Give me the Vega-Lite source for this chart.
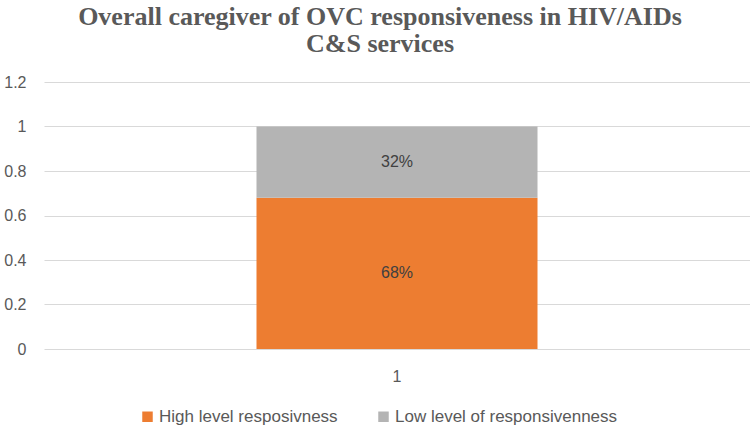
{
  "$schema": "https://vega.github.io/schema/vega-lite/v6.json",
  "autosize": "none",
  "width": 706,
  "height": 267,
  "padding": {"left": 44, "top": 82, "right": 0, "bottom": 80},
  "background": "white",
  "title": {
    "text": ["Overall caregiver of OVC responsiveness in HIV/AIDs", "C&S services"],
    "font": "Liberation Serif",
    "fontSize": 26,
    "fontWeight": "bold",
    "color": "#595959",
    "lineHeight": 27,
    "anchor": "middle",
    "dx": -17,
    "offset": 17
  },
  "data": {
    "values": [
      {"cat": "1", "level": "High level resposivness", "value": 0.68, "label": "68%", "ord": 1},
      {"cat": "1", "level": "Low level of responsivenness", "value": 0.32, "label": "32%", "ord": 2}
    ]
  },
  "transform": [
    {"stack": "value", "groupby": ["cat"], "sort": [{"field": "ord", "order": "ascending"}], "as": ["v0", "v1"]},
    {"calculate": "(datum.v0 + datum.v1) / 2", "as": "mid"}
  ],
  "encoding": {
    "x": {
      "field": "cat",
      "type": "nominal",
      "title": null,
      "axis": {
        "labelAngle": 0,
        "labelFont": "Liberation Sans",
        "labelFontSize": 16,
        "labelColor": "#595959",
        "domain": false,
        "ticks": false,
        "labelPadding": 19
      }
    }
  },
  "layer": [
    {
      "mark": {"type": "bar", "width": 281},
      "encoding": {
        "y": {
          "field": "v0",
          "type": "quantitative",
          "title": null,
          "scale": {"domain": [0, 1.2]},
          "axis": {
            "values": [0, 0.2, 0.4, 0.6, 0.8, 1, 1.2],
            "format": "~g",
            "labelFont": "Liberation Sans",
            "labelFontSize": 16,
            "labelColor": "#595959",
            "domain": false,
            "ticks": false,
            "labelPadding": 18,
            "gridColor": "#D9D9D9",
            "gridWidth": 1
          }
        },
        "y2": {"field": "v1"},
        "color": {
          "field": "level",
          "type": "nominal",
          "scale": {
            "domain": ["High level resposivness", "Low level of responsivenness"],
            "range": ["#ED7D31", "#B4B4B4"]
          },
          "legend": {
            "orient": "none",
            "legendX": 90,
            "legendY": 326,
            "direction": "horizontal",
            "title": null,
            "symbolType": "square",
            "symbolSize": 110,
            "symbolStrokeWidth": 0,
            "symbolOffset": 5,
            "labelFont": "Liberation Sans",
            "labelFontSize": 17,
            "labelColor": "#595959",
            "labelLimit": 0,
            "labelOffset": 3,
            "columnPadding": 32
          }
        }
      }
    },
    {
      "mark": {"type": "text", "font": "Liberation Sans", "fontSize": 16, "color": "#404040", "baseline": "middle"},
      "encoding": {
        "y": {"field": "mid", "type": "quantitative"},
        "text": {"field": "label"}
      }
    }
  ],
  "config": {
    "view": {"stroke": null}
  }
}
